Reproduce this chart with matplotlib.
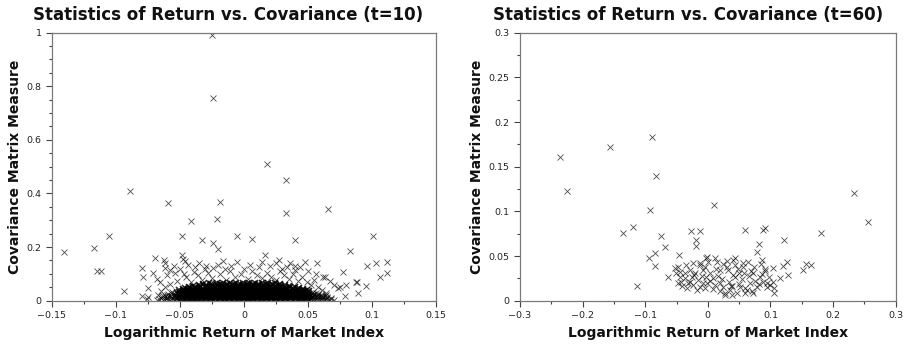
import matplotlib

matplotlib.use("Agg")
import matplotlib.pyplot as plt
from matplotlib.ticker import FuncFormatter, MultipleLocator

# ---- t=10 panel: sparse outliers ----
left_out_x = [-0.025, -0.024, 0.018, 0.0329, -0.0887, -0.0189, -0.059, 0.066, 0.033, -0.021,
              -0.0416, -0.1056, -0.0482, -0.0054, 0.101, 0.0062, -0.0327, 0.0396, -0.0241, -0.0202,
              -0.117, -0.1408, 0.0827, -0.0486, 0.0168, -0.0697, -0.0475, -0.0625, -0.046, 0.0272,
              -0.0163, -0.0054, 0.0137, 0.0473, 0.1118, 0.103, 0.0571, 0.0965, 0.0337, 0.0395,
              -0.0384, -0.0798, -0.062, -0.0574, -0.0306, -0.024, -0.115, -0.112, 0.077, 0.1118,
              -0.071, -0.0788, 0.1066, 0.0631, 0.067, 0.0879, 0.0885, -0.0658, 0.0957, 0.080,
              0.075, 0.0735, -0.0749, -0.094, 0.0891, 0.0793, -0.080, -0.075, -0.0755, 0.068, 0.064]
left_out_y = [0.99, 0.755, 0.51, 0.45, 0.41, 0.369, 0.363, 0.341, 0.328, 0.305,
              0.296, 0.241, 0.241, 0.241, 0.241, 0.232, 0.225, 0.225, 0.216, 0.194,
              0.196, 0.183, 0.186, 0.17, 0.17, 0.158, 0.154, 0.152, 0.148, 0.152,
              0.149, 0.146, 0.146, 0.146, 0.146, 0.142, 0.139, 0.131, 0.127, 0.13,
              0.126, 0.123, 0.121, 0.115, 0.12, 0.123, 0.111, 0.111, 0.107, 0.102,
              0.102, 0.087, 0.087, 0.087, 0.074, 0.071, 0.068, 0.071, 0.056, 0.059,
              0.05, 0.046, 0.046, 0.036, 0.028, 0.018, 0.017, 0.015, 0.005, 0.01, 0.02]

# looser points just above the dense core
left_mid_x = [-0.058, -0.052, -0.045, -0.041, -0.036, -0.033, -0.028, -0.025, -0.019, -0.014,
              -0.011, -0.007, -0.002, 0.003, 0.006, 0.010, 0.014, 0.018, 0.021, 0.025,
              0.028, 0.031, 0.035, 0.038, 0.042, 0.045, 0.049, 0.052, 0.055, 0.058,
              0.061, 0.064, -0.062, -0.065, -0.067, -0.047, -0.039, 0.030, 0.040, -0.015,
              0.000, 0.012, -0.062, -0.055, -0.050, -0.044, -0.035, -0.030, -0.020, -0.010,
              0.005, 0.020, 0.025, 0.036, 0.044, 0.050, 0.056, 0.062, 0.070, -0.068,
              -0.060, -0.054]
left_mid_y = [0.062, 0.075, 0.088, 0.068, 0.095, 0.078, 0.105, 0.085, 0.098, 0.078,
              0.110, 0.090, 0.100, 0.082, 0.112, 0.095, 0.085, 0.105, 0.090, 0.078,
              0.112, 0.095, 0.080, 0.100, 0.075, 0.090, 0.070, 0.060, 0.078, 0.050,
              0.040, 0.030, 0.050, 0.035, 0.022, 0.100, 0.108, 0.118, 0.115, 0.118,
              0.120, 0.125, 0.140, 0.130, 0.120, 0.135, 0.140, 0.130, 0.135, 0.130,
              0.135, 0.130, 0.140, 0.140, 0.125, 0.110, 0.100, 0.090, 0.060, 0.080,
              0.095, 0.105]

# dense core near the origin, one x list per covariance level
core_y = [0.004, 0.007, 0.010, 0.013, 0.016, 0.019, 0.022, 0.025, 0.029, 0.032,
          0.036, 0.039, 0.043, 0.047, 0.051, 0.055, 0.059, 0.063, 0.067]
core_x = [
    [-0.068, -0.063, -0.059, -0.055, -0.051, -0.047, -0.043, -0.040, -0.036, -0.032, -0.028,
     -0.025, -0.021, -0.017, -0.014, -0.010, -0.006, -0.003, 0.001, 0.004, 0.008, 0.012,
     0.015, 0.019, 0.023, 0.026, 0.030, 0.034, 0.038, 0.042, 0.046, 0.050, 0.054, 0.058,
     0.062, 0.066, 0.070],
    [-0.066, -0.061, -0.057, -0.053, -0.049, -0.045, -0.042, -0.038, -0.034, -0.030, -0.026,
     -0.023, -0.019, -0.015, -0.012, -0.008, -0.004, 0.000, 0.003, 0.007, 0.010, 0.014,
     0.017, 0.021, 0.025, 0.028, 0.032, 0.036, 0.040, 0.044, 0.048, 0.052, 0.056, 0.060,
     0.064, 0.068],
    [-0.065, -0.060, -0.056, -0.052, -0.048, -0.044, -0.040, -0.037, -0.033, -0.029, -0.026,
     -0.022, -0.018, -0.015, -0.011, -0.007, -0.004, 0.000, 0.004, 0.007, 0.011, 0.014,
     0.018, 0.022, 0.025, 0.029, 0.033, 0.037, 0.041, 0.045, 0.049, 0.053, 0.057, 0.061,
     0.065],
    [-0.064, -0.060, -0.055, -0.051, -0.047, -0.043, -0.040, -0.036, -0.032, -0.029, -0.025,
     -0.021, -0.018, -0.014, -0.010, -0.007, -0.003, 0.001, 0.004, 0.008, 0.011, 0.015,
     0.019, 0.022, 0.026, 0.030, 0.034, 0.038, 0.042, 0.046, 0.050, 0.054, 0.058, 0.062,
     0.065],
    [-0.063, -0.058, -0.054, -0.049, -0.045, -0.041, -0.038, -0.034, -0.030, -0.027, -0.023,
     -0.019, -0.016, -0.012, -0.008, -0.005, -0.001, 0.003, 0.006, 0.010, 0.013, 0.017,
     0.021, 0.024, 0.028, 0.032, 0.036, 0.040, 0.044, 0.048, 0.052, 0.056, 0.060, 0.063],
    [-0.062, -0.057, -0.053, -0.048, -0.044, -0.041, -0.037, -0.033, -0.030, -0.026, -0.022,
     -0.019, -0.015, -0.011, -0.008, -0.004, 0.000, 0.003, 0.007, 0.010, 0.014, 0.018,
     0.021, 0.025, 0.029, 0.033, 0.037, 0.041, 0.045, 0.049, 0.053, 0.057, 0.061],
    [-0.060, -0.055, -0.051, -0.047, -0.043, -0.039, -0.035, -0.032, -0.028, -0.024, -0.021,
     -0.017, -0.013, -0.010, -0.006, -0.002, 0.001, 0.005, 0.008, 0.012, 0.015, 0.019,
     0.023, 0.026, 0.030, 0.034, 0.038, 0.042, 0.046, 0.050, 0.054, 0.058, 0.060],
    [-0.059, -0.054, -0.050, -0.046, -0.042, -0.038, -0.035, -0.031, -0.027, -0.024, -0.020,
     -0.016, -0.013, -0.009, -0.005, -0.002, 0.002, 0.005, 0.009, 0.012, 0.016, 0.020,
     0.023, 0.027, 0.031, 0.035, 0.039, 0.043, 0.047, 0.051, 0.055, 0.058],
    [-0.057, -0.052, -0.048, -0.044, -0.040, -0.036, -0.033, -0.029, -0.025, -0.022, -0.018,
     -0.014, -0.011, -0.007, -0.003, 0.000, 0.004, 0.007, 0.011, 0.014, 0.018, 0.022,
     0.025, 0.029, 0.033, 0.037, 0.041, 0.045, 0.049, 0.053, 0.056],
    [-0.056, -0.051, -0.047, -0.043, -0.039, -0.036, -0.032, -0.028, -0.025, -0.021, -0.017,
     -0.014, -0.010, -0.006, -0.003, 0.001, 0.004, 0.008, 0.011, 0.015, 0.019, 0.022,
     0.026, 0.030, 0.034, 0.038, 0.042, 0.046, 0.050, 0.054],
    [-0.053, -0.048, -0.044, -0.040, -0.037, -0.033, -0.029, -0.026, -0.022, -0.018, -0.015,
     -0.011, -0.007, -0.004, 0.000, 0.003, 0.007, 0.010, 0.014, 0.017, 0.021, 0.025,
     0.028, 0.032, 0.036, 0.040, 0.044, 0.048, 0.051],
    [-0.051, -0.047, -0.043, -0.039, -0.035, -0.032, -0.028, -0.024, -0.021, -0.017, -0.013,
     -0.010, -0.006, -0.003, 0.001, 0.004, 0.008, 0.011, 0.015, 0.018, 0.022, 0.026,
     0.030, 0.034, 0.038, 0.042, 0.046, 0.049],
    [-0.048, -0.044, -0.040, -0.036, -0.032, -0.028, -0.025, -0.021, -0.017, -0.014, -0.010,
     -0.006, -0.003, 0.001, 0.004, 0.008, 0.011, 0.015, 0.019, 0.022, 0.026, 0.030,
     0.034, 0.038, 0.042, 0.046],
    [-0.046, -0.042, -0.038, -0.034, -0.030, -0.026, -0.022, -0.018, -0.014, -0.011, -0.007,
     -0.003, 0.000, 0.004, 0.007, 0.011, 0.014, 0.018, 0.022, 0.025, 0.029, 0.033,
     0.038, 0.043],
    [-0.043, -0.038, -0.034, -0.030, -0.026, -0.023, -0.019, -0.015, -0.012, -0.008, -0.004,
     -0.001, 0.003, 0.006, 0.010, 0.013, 0.017, 0.021, 0.024, 0.028, 0.032, 0.036, 0.040],
    [-0.040, -0.034, -0.029, -0.024, -0.020, -0.016, -0.012, -0.008, -0.004, 0.000, 0.004,
     0.008, 0.012, 0.016, 0.020, 0.024, 0.029, 0.035],
    [-0.035, -0.030, -0.025, -0.021, -0.017, -0.013, -0.009, -0.005, -0.001, 0.003, 0.007,
     0.011, 0.015, 0.019, 0.023, 0.027, 0.032],
    [-0.032, -0.026, -0.019, -0.013, -0.008, -0.003, 0.002, 0.007, 0.012, 0.017, 0.022, 0.028],
    [-0.027, -0.021, -0.016, -0.011, -0.006, -0.001, 0.004, 0.009, 0.014, 0.019, 0.024],
]

# ---- t=60 panel ----
right_x = [-0.236, -0.156, -0.0887, -0.0835, -0.225, 0.2335, 0.0099, -0.093, 0.2564, -0.119,
           -0.0274, -0.012, 0.0594, 0.0887, 0.0914, -0.1355, 0.181, -0.075, -0.019, 0.1217,
           -0.0689, -0.0194, 0.0812, -0.0838, 0.079, -0.046, -0.0934, 0.087, 0.127, 0.157,
           0.164, -0.0838, 0.1196, 0.1526, 0.1286, -0.0636, 0.1153, -0.1126, 0.104, 0.105,
           0.106, 0.1036, 0.0914, 0.091,
           # cluster
           -0.0018, 0.0115, 0.0141, 0.001, -0.0125, -0.007, 0.0035, 0.0088, 0.0195, 0.0248,
           0.0355, 0.046, 0.0514, 0.062, 0.0727, 0.0408, 0.0435, 0.0301, 0.0328, 0.0195,
           0.0568, 0.0568, 0.0727, 0.0674, 0.078, 0.0887, 0.0834, 0.094, -0.0529, -0.0503,
           -0.0476, -0.045, -0.0423, -0.0476, -0.0343, -0.0237, -0.013, -0.005, -0.0023, -0.037,
           -0.026, -0.0157, -0.0077, -0.029, -0.0237, -0.013, -0.005, -0.037, -0.0316, -0.044,
           -0.041, -0.028, -0.022, -0.018, -0.003, 0.004, 0.012, 0.016, 0.022, 0.027,
           0.033, 0.038, 0.043, 0.049, 0.054, 0.06, 0.066, 0.071, 0.076, 0.082,
           0.086, 0.097, 0.1, 0.069, 0.058, 0.048, 0.04, 0.028, 0.02, 0.009,
           -0.009, -0.02, -0.033, 0.031, 0.044, 0.064, 0.074, 0.085, 0.095, 0.013,
           0.024, 0.037, 0.05, -0.001, 0.06, 0.039]
right_y = [0.161, 0.172, 0.183, 0.140, 0.123, 0.121, 0.107, 0.1016, 0.0878, 0.083,
           0.078, 0.078, 0.079, 0.079, 0.081, 0.076, 0.0755, 0.0725, 0.068, 0.0676,
           0.0605, 0.0615, 0.064, 0.053, 0.054, 0.051, 0.0475, 0.046, 0.0428, 0.041,
           0.040, 0.039, 0.039, 0.034, 0.029, 0.026, 0.025, 0.0165, 0.021, 0.014,
           0.009, 0.0363, 0.036, 0.033,
           # cluster
           0.0493, 0.0475, 0.0437, 0.0437, 0.040, 0.0344, 0.0307, 0.0251, 0.0195, 0.0157,
           0.012, 0.0083, 0.0157, 0.012, 0.0083, 0.0456, 0.040, 0.0381, 0.0344, 0.0344,
           0.0419, 0.0381, 0.0307, 0.0195, 0.0157, 0.0214, 0.0269, 0.0157, 0.0363, 0.0307,
           0.038, 0.027, 0.0214, 0.0195, 0.040, 0.042, 0.0426, 0.038, 0.0475, 0.031,
           0.027, 0.0232, 0.0195, 0.0214, 0.0176, 0.0157, 0.0139, 0.025, 0.0195, 0.032,
           0.017, 0.034, 0.029, 0.012, 0.026, 0.022, 0.018, 0.028, 0.024, 0.009,
           0.021, 0.016, 0.026, 0.019, 0.024, 0.014, 0.028, 0.011, 0.022, 0.019,
           0.03, 0.026, 0.018, 0.033, 0.031, 0.035, 0.029, 0.006, 0.011, 0.013,
           0.028, 0.031, 0.014, 0.044, 0.048, 0.043, 0.038, 0.041, 0.02, 0.036,
           0.041, 0.016, 0.031, 0.02, 0.009, 0.006]

TITLES = ["Statistics of Return vs. Covariance (t=10)", "Statistics of Return vs. Covariance (t=60)"]
XLABEL = "Logarithmic Return of Market Index"
YLABEL = "Covariance Matrix Measure"


def _fmt(v, _pos):
    s = f"{v:.6g}"
    if s in ("-0", "0"):
        return "0"
    return s.replace("-", "\u2212")


def _style(ax, xlim, ylim, xmaj, xmin, ymaj, ymin):
    ax.set_xlim(*xlim)
    ax.set_ylim(*ylim)
    ax.xaxis.set_major_locator(MultipleLocator(xmaj))
    ax.xaxis.set_minor_locator(MultipleLocator(xmin))
    ax.yaxis.set_major_locator(MultipleLocator(ymaj))
    ax.yaxis.set_minor_locator(MultipleLocator(ymin))
    ax.xaxis.set_major_formatter(FuncFormatter(_fmt))
    ax.yaxis.set_major_formatter(FuncFormatter(_fmt))
    ax.tick_params(which="both", direction="out", top=False, right=False,
                   colors="#444444", labelcolor="#222222", labelsize=6.8, width=0.8)
    ax.tick_params(which="major", length=4, pad=3.5)
    ax.tick_params(which="minor", length=2.5)
    for sp in ax.spines.values():
        sp.set_color("#7a7a7a")
        sp.set_linewidth(0.9)
    ax.set_xlabel(XLABEL, fontsize=10, fontweight="bold", color="#111111", labelpad=4)
    ax.set_ylabel(YLABEL, fontsize=10, fontweight="bold", color="#111111", labelpad=3)


mk = dict(linestyle="none", marker="x", markersize=5, markeredgewidth=0.6, color="black", alpha=0.7)

fig = plt.figure(figsize=(9.10, 3.49), dpi=100)
ax1 = fig.add_axes([0.0571, 0.1384, 0.422, 0.768])
ax2 = fig.add_axes([0.5714, 0.1384, 0.4129, 0.768])

# the innermost part of the core overlaps into solid black; its fringe stays grey
core = [(x, y) for y, row in zip(core_y, core_x) for x in row]
inner = [(x, y) for x, y in core if -0.052 <= x <= 0.052]
fringe = [(x, y) for x, y in core if not -0.052 <= x <= 0.052]
ax1.plot([p[0] for p in inner], [p[1] for p in inner], **{**mk, "markeredgewidth": 1.1, "alpha": 0.85})
ax1.plot([p[0] for p in fringe], [p[1] for p in fringe], **mk)
ax1.plot(left_mid_x, left_mid_y, **mk)
ax1.plot(left_out_x, left_out_y, **mk)
_style(ax1, (-0.15, 0.15), (0, 1), 0.05, 0.025, 0.2, 0.05)
ax1.set_title(TITLES[0], fontsize=12, fontweight="bold", color="#111111", x=0.458, pad=9)

ax2.plot(right_x, right_y, **mk)
_style(ax2, (-0.3, 0.3), (0, 0.3), 0.1, 0.05, 0.05, 0.025)
ax2.set_title(TITLES[1], fontsize=12, fontweight="bold", color="#111111", x=0.447, pad=9)

fig.savefig("out.png", dpi=100)
